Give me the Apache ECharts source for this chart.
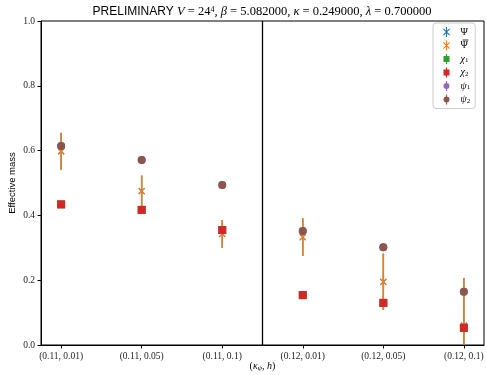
<!DOCTYPE html>
<html>
<head>
<meta charset="utf-8">
<script src="https://cdn.jsdelivr.net/npm/echarts@6/dist/echarts.min.js"></script>
<style>
  html, body { margin: 0; padding: 0; background: #fff; }
  #chart { width: 486px; height: 375px; }
</style>
</head>
<body>
<div id="chart"></div>
<script>
const categories = ['(0.11, 0.01)', '(0.11, 0.05)', '(0.11, 0.1)', '(0.12, 0.01)', '(0.12, 0.05)', '(0.12, 0.1)'];
const yTicks = [0, 0.2, 0.4, 0.6, 0.8, 1.0];

// effective masses
const psiMass = [0.598, 0.475, 0.343, 0.333, 0.195, 0.06];
const psiErr = [0.057, 0.048, 0.043, 0.058, 0.087, 0.147];
const psiBarMass = [0.598, 0.475, 0.343, 0.333, 0.195, 0.06];
const psiBarErr = [0.057, 0.048, 0.043, 0.058, 0.087, 0.147];
const chi1Mass = [0.434, 0.417, 0.355, 0.154, 0.130, 0.053];
const chi2Mass = [0.434, 0.417, 0.355, 0.154, 0.130, 0.053];
const psi1Mass = [0.614, 0.571, 0.494, 0.352, 0.302, 0.164];
const psi2Mass = [0.614, 0.571, 0.494, 0.352, 0.302, 0.164];

const SERIF = '"Liberation Serif", "DejaVu Serif", serif';
const SANS = '"Liberation Sans", Arial, sans-serif';

const BAR = 'M4.4,0L5.6,0L5.6,10L4.4,10Z';
const ICON_X = 'path://' + BAR + 'M1.5,2.3L2.3,1.5L8.5,7.7L7.7,8.5ZM7.7,1.5L8.5,2.3L2.3,8.5L1.5,7.7Z';
const ICON_SQ = 'path://' + BAR + 'M2,2L8,2L8,8L2,8Z';
const ICON_CIRC = 'path://' + BAR + 'M2,5A3,3 0 1 1 8,5A3,3 0 1 1 2,5Z';

function withX(values) {
  return values.map((v, i) => [i, v]);
}

function errorRender(color, alpha) {
  return function (params, api) {
    const x = api.value(0), y = api.value(1), e = api.value(2);
    const rect = params.coordSys;
    const bottom = rect.y + rect.height;
    const top = api.coord([x, y + e]);
    const bot = api.coord([x, y - e]);
    const c = api.coord([x, y]);
    const s = 3;
    return {
      type: 'group',
      children: [
        { type: 'line', shape: { x1: top[0], y1: Math.max(top[1], rect.y), x2: bot[0], y2: Math.min(bot[1], bottom) }, style: { stroke: color, lineWidth: 1.5, opacity: alpha } },
        { type: 'line', shape: { x1: c[0] - s, y1: c[1] - s, x2: c[0] + s, y2: c[1] + s }, style: { stroke: color, lineWidth: 1.2, opacity: alpha } },
        { type: 'line', shape: { x1: c[0] - s, y1: c[1] + s, x2: c[0] + s, y2: c[1] - s }, style: { stroke: color, lineWidth: 1.2, opacity: alpha } }
      ]
    };
  };
}

const legendNames = {
  Psi: '{m|Ψ}',
  PsiBar: '{m|Ψ}',
  chi1: '{i|χ}{s|1}',
  chi2: '{i|χ}{s|2}',
  psi1: '{i|ψ}{s|1}',
  psi2: '{i|ψ}{s|2}'
};

const chart = echarts.init(document.getElementById('chart'));
chart.setOption({
  animation: false,
  grid: {
    left: 41, right: 2, top: 21, bottom: 30,
    containLabel: false, outerBoundsMode: 'none',
    show: true, borderColor: '#000', borderWidth: 1
  },
  graphic: [{
    type: 'text',
    x: 262,
    y: 12,
    style: {
      text: '{a|PRELIMINARY }{i|V}{n| = 24}{sup|4}{n|, }{i|β}{n| = 5.082000, }{i|κ}{n| = 0.249000, }{i|λ}{n| = 0.700000}',
      align: 'center',
      verticalAlign: 'middle',
      rich: {
        a: { fontFamily: SANS, fontSize: 12, fill: '#000' },
        i: { fontFamily: SERIF, fontStyle: 'italic', fontSize: 12.5, fill: '#000' },
        n: { fontFamily: SERIF, fontSize: 12.5, fill: '#000' },
        sup: { fontFamily: SERIF, fontSize: 8, fill: '#000', verticalAlign: 'top' }
      }
    }
  }, {
    // bar over the second legend label (Psi-bar)
    type: 'line',
    z: 100,
    shape: { x1: 462.5, y1: 40, x2: 468.5, y2: 40 },
    style: { stroke: '#000', lineWidth: 0.8 }
  }],
  legend: {
    orient: 'vertical',
    left: 433,
    top: 23,
    padding: [4, 5, 4, 10],
    itemWidth: 10,
    itemHeight: 10,
    itemGap: 3.5,
    backgroundColor: '#fff',
    borderColor: '#ccc',
    borderWidth: 1,
    borderRadius: 3,
    data: [
      { name: 'Psi', icon: ICON_X },
      { name: 'PsiBar', icon: ICON_X },
      { name: 'chi1', icon: ICON_SQ },
      { name: 'chi2', icon: ICON_SQ },
      { name: 'psi1', icon: ICON_CIRC },
      { name: 'psi2', icon: ICON_CIRC }
    ],
    formatter: (name) => legendNames[name],
    textStyle: {
      padding: [0, 0, 0, 4],
      rich: {
        m: { fontFamily: SERIF, fontSize: 10, color: '#000' },
        i: { fontFamily: SERIF, fontStyle: 'italic', fontSize: 10, color: '#000' },
        s: { fontFamily: SERIF, fontSize: 7, color: '#000', verticalAlign: 'bottom', padding: [3, 0, 0, 0] }
      }
    }
  },
  xAxis: {
    type: 'value',
    min: -0.25,
    max: 5.25,
    name: '({i|κ}{s|ψ}{n|, }{i|h}{n|)}',
    nameLocation: 'middle',
    nameGap: 16,
    nameMoveOverlap: false,
    nameTextStyle: {
      fontFamily: SERIF, fontSize: 10, color: '#000',
      rich: {
        i: { fontFamily: SERIF, fontStyle: 'italic', fontSize: 10, color: '#000' },
        n: { fontFamily: SERIF, fontSize: 10, color: '#000' },
        s: { fontFamily: SERIF, fontStyle: 'italic', fontSize: 7, color: '#000', verticalAlign: 'bottom', padding: [4, 0, 0, 0] }
      }
    },
    splitLine: { show: false },
    axisLine: { onZero: false, lineStyle: { color: '#000', width: 1 } },
    axisTick: { inside: false, length: 3.5, customValues: categories.map((c, i) => i), lineStyle: { color: '#000' } },
    axisLabel: {
      customValues: categories.map((c, i) => i),
      formatter: (v) => categories[Math.round(v)],
      fontFamily: SERIF, fontSize: 9.5, color: '#222', margin: 6
    }
  },
  yAxis: {
    type: 'value',
    min: 0,
    max: 1,
    interval: 0.2,
    name: 'Effective mass',
    nameLocation: 'middle',
    nameGap: 24,
    nameMoveOverlap: false,
    nameTextStyle: { fontFamily: SANS, fontSize: 9.5, color: '#000' },
    splitLine: { show: false },
    axisLine: { show: true, onZero: false, lineStyle: { color: '#000', width: 1 } },
    axisTick: { show: true, length: 3.5, lineStyle: { color: '#000' } },
    axisLabel: {
      formatter: (v) => yTicks.includes(+v.toFixed(1)) ? v.toFixed(1) : '',
      fontFamily: SERIF, fontSize: 9.5, color: '#222', margin: 6
    }
  },
  series: [
    {
      name: 'Psi', type: 'custom', itemStyle: { color: '#1f77b4' },
      renderItem: errorRender('#1f77b4', 1),
      data: psiMass.map((v, i) => [i, v, psiErr[i]]),
      z: 2,
      markLine: {
        silent: true, symbol: 'none', label: { show: false },
        lineStyle: { color: '#000', width: 1.3, type: 'solid' },
        data: [{ xAxis: 2.5 }]
      }
    },
    {
      name: 'PsiBar', type: 'custom', itemStyle: { color: '#ff7f0e' },
      renderItem: errorRender('#ff7f0e', 0.9),
      data: psiBarMass.map((v, i) => [i, v, psiBarErr[i]]),
      z: 3
    },
    {
      name: 'chi1', type: 'scatter', symbol: 'rect', symbolSize: 8,
      itemStyle: { color: '#2ca02c', opacity: 1 }, data: withX(chi1Mass), z: 4
    },
    {
      name: 'chi2', type: 'scatter', symbol: 'rect', symbolSize: 8,
      itemStyle: { color: '#d62728', opacity: 1 }, data: withX(chi2Mass), z: 5
    },
    {
      name: 'psi1', type: 'scatter', symbol: 'circle', symbolSize: 8,
      itemStyle: { color: '#9467bd', opacity: 1 }, data: withX(psi1Mass), z: 4
    },
    {
      name: 'psi2', type: 'scatter', symbol: 'circle', symbolSize: 8,
      itemStyle: { color: '#8c564b', opacity: 1 }, data: withX(psi2Mass), z: 5
    }
  ]
});
</script>
</body>
</html>
